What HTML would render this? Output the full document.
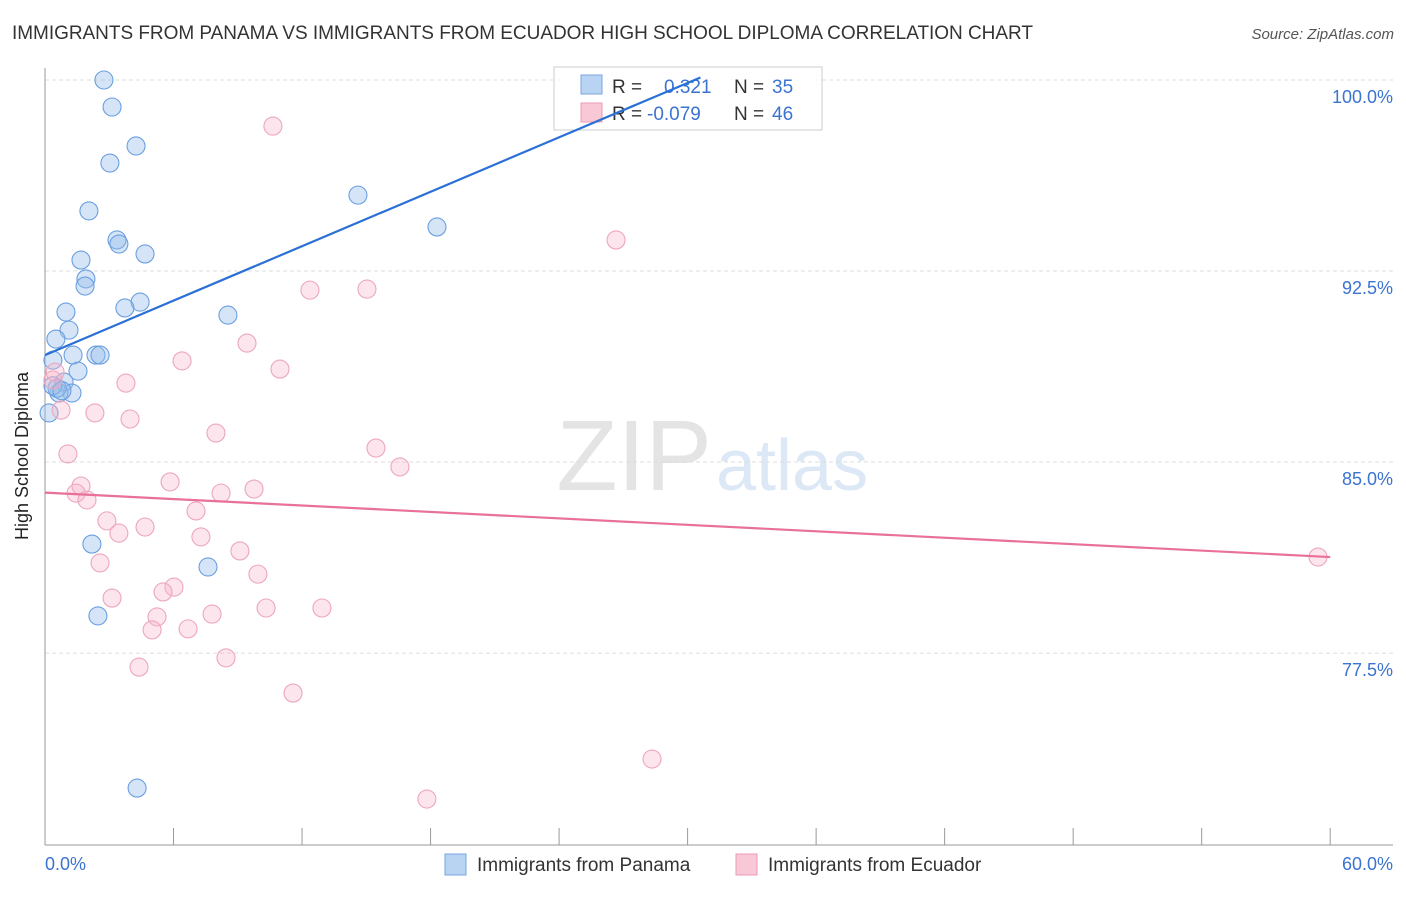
<!DOCTYPE html>
<html><head><meta charset="utf-8"><style>
body{margin:0;background:#fff;font-family:"Liberation Sans",sans-serif;}
svg text{font-family:"Liberation Sans",sans-serif;}
</style></head><body>
<svg id="chart" width="1406" height="892" xmlns="http://www.w3.org/2000/svg">
<text x="12" y="39" font-size="19" fill="#333" textLength="1021">IMMIGRANTS FROM PANAMA VS IMMIGRANTS FROM ECUADOR HIGH SCHOOL DIPLOMA CORRELATION CHART</text>
<text x="1394" y="39" font-size="15" fill="#555" font-style="italic" text-anchor="end">Source: ZipAtlas.com</text>
<text x="712" y="490" font-size="100" fill="#e4e4e4" font-family="Liberation Serif" text-anchor="end">ZIP</text>
<text x="716" y="490" font-size="72" fill="#dce8f5">atlas</text>
<g id="grid"></g>
<line x1="45" y1="68" x2="45" y2="845" stroke="#999"/>
<line x1="45" y1="845" x2="1393" y2="845" stroke="#999"/>
<g id="xticks"></g>
<text x="28" y="456" font-size="18" fill="#222" text-anchor="middle" transform="rotate(-90 28 456)">High School Diploma</text>
<text x="45" y="870" font-size="18" fill="#3b73d1">0.0%</text>
<text x="1393" y="870" font-size="18" fill="#3b73d1" text-anchor="end">60.0%</text>
<g id="pts"></g>
<g>
<rect x="554" y="67" width="268" height="63" fill="rgba(255,255,255,0.85)" stroke="#ccc"/>
<rect x="581" y="75" width="21" height="19" fill="#b9d3f3" stroke="#7aa6e0"/>
<rect x="581" y="103" width="21" height="19" fill="#f8c8d6" stroke="#ec9ab4"/>
<text x="612" y="93" font-size="19" fill="#333">R =</text>
<text x="664" y="93" font-size="19" fill="#3b73d1">0.321</text>
<text x="734" y="93" font-size="19" fill="#333">N =</text>
<text x="772" y="93" font-size="19" fill="#3b73d1">35</text>
<text x="612" y="120" font-size="19" fill="#333">R =</text>
<text x="647" y="120" font-size="19" fill="#3b73d1">-0.079</text>
<text x="734" y="120" font-size="19" fill="#333">N =</text>
<text x="772" y="120" font-size="19" fill="#3b73d1">46</text>
</g>
<g id="lines"></g>
<g>
<rect x="445" y="854" width="21" height="21" fill="#b9d3f3" stroke="#7aa6e0"/>
<text x="477" y="871" font-size="19" fill="#333">Immigrants from Panama</text>
<rect x="736" y="854" width="21" height="21" fill="#f8c8d6" stroke="#ec9ab4"/>
<text x="768" y="871" font-size="19" fill="#333">Immigrants from Ecuador</text>
</g>
</svg>
<script>
const yTicks=[100,92.5,85,77.5];
const yTickLabels=["100.0%","92.5%","85.0%","77.5%"];
const xTicks=[0,6,12,18,24,30,36,42,48,54,60];
const panamaX=[2.75,3.13,4.25,3.03,2.05,14.61,18.3,3.36,3.45,4.67,1.68,1.91,1.87,4.44,3.73,8.54,0.98,1.12,0.51,1.31,2.38,2.57,0.37,1.54,0.89,1.26,0.65,0.56,0.19,2.19,7.61,2.47,4.3,0.37,0.79];
const panamaY=[100,98.94,97.41,96.74,94.86,95.48,94.23,93.72,93.56,93.17,92.93,92.19,91.91,91.28,91.05,90.77,90.89,90.18,89.83,89.2,89.2,89.2,89.0,88.57,88.14,87.71,87.71,87.9,86.93,81.78,80.88,78.96,72.2,88.0,87.8];
const ecuadorX=[10.64,26.66,12.37,15.03,6.4,9.43,10.97,3.78,0.37,0.47,0.75,2.33,3.97,7.98,15.45,1.07,16.57,5.84,1.68,1.45,1.96,8.22,9.76,7.05,2.89,3.45,4.67,7.28,9.1,2.57,9.94,6.02,5.51,3.13,10.32,12.93,7.8,5.23,5.0,6.68,4.39,8.45,11.58,28.34,17.83,59.43];
const ecuadorY=[98.19,93.72,91.75,91.79,88.97,89.67,88.65,88.1,88.22,88.53,87.04,86.93,86.69,86.14,85.55,85.32,84.81,84.22,84.06,83.78,83.51,83.78,83.94,83.08,82.69,82.21,82.45,82.06,81.51,81.04,80.6,80.09,79.9,79.66,79.27,79.27,79.03,78.92,78.41,78.45,76.95,77.31,75.93,73.34,71.77,81.27];
const panamaTrend=[[0,89.2],[30.6,100.1]];
const ecuadorTrend=[[0,83.8],[60,81.27]];
const NS="http://www.w3.org/2000/svg";
function sx(v){return 45+v*21.42;}
function sy(v){return 80+(100-v)*25.47;}
function mk(t,a,p){const e=document.createElementNS(NS,t);for(const k in a)e.setAttribute(k,a[k]);document.getElementById(p).appendChild(e);return e;}
yTicks.forEach((v,i)=>{
 const l=mk('line',{x1:45,x2:1393,y1:sy(v),y2:sy(v),stroke:'#ddd','stroke-dasharray':'4,3'},'grid');
 
 
 const t=mk('text',{x:1393,y:sy(v)+23,'font-size':18,fill:'#3b73d1','text-anchor':'end'},'grid');
 t.textContent=yTickLabels[i];
 
 
});
xTicks.forEach(v=>{
 const l=mk('line',{x1:sx(v),x2:sx(v),y1:828,y2:845,stroke:'#999'},'xticks');
 
 
});
panamaX.forEach((x,i)=>{
 const c=mk('circle',{cx:sx(x),cy:sy(panamaY[i]),r:9,fill:'rgba(150,190,235,0.4)',stroke:'#6a9fe0','stroke-width':1.1},'pts');
 
 
});
ecuadorX.forEach((x,i)=>{
 const c=mk('circle',{cx:sx(x),cy:sy(ecuadorY[i]),r:9,fill:'rgba(245,180,200,0.35)',stroke:'#eda6bd','stroke-width':1.1},'pts');
 
 
});
const bl=mk('line',{x1:sx(panamaTrend[0][0]),y1:sy(panamaTrend[0][1]),x2:sx(panamaTrend[1][0]),y2:sy(panamaTrend[1][1]),stroke:'#2a70d6','stroke-width':2.2},'lines');


const pl=mk('line',{x1:sx(ecuadorTrend[0][0]),y1:sy(ecuadorTrend[0][1]),x2:sx(ecuadorTrend[1][0]),y2:sy(ecuadorTrend[1][1]),stroke:'#e8709a','stroke-width':2.2},'lines');


</script>
</body></html>
